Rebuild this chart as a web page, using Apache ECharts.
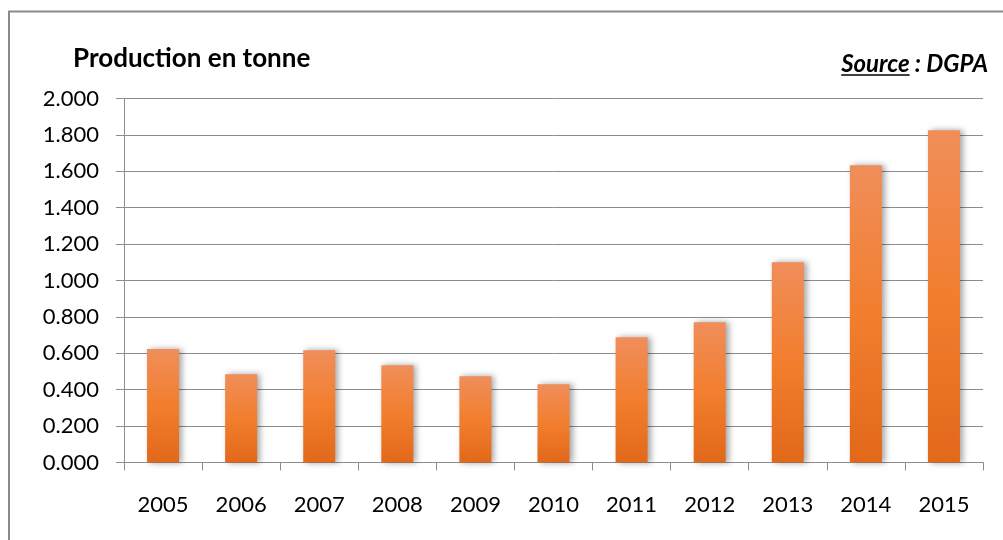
<!DOCTYPE html>
<html>
<head>
<meta charset="utf-8">
<script src="https://cdn.jsdelivr.net/npm/echarts@6/dist/echarts.min.js"></script>
<style>
  html, body { margin: 0; padding: 0; background: #ffffff; }
  #chart { width: 1003px; height: 540px; }
</style>
</head>
<body>
<div id="chart"></div>
<script>
// Production annuelle (en tonne), source DGPA
const years = ['2005', '2006', '2007', '2008', '2009', '2010', '2011', '2012', '2013', '2014', '2015'];
const production = [0.623, 0.485, 0.617, 0.535, 0.474, 0.430, 0.688, 0.771, 1.100, 1.633, 1.826];
const yTickLabels = ['0.000', '0.200', '0.400', '0.600', '0.800', '1.000', '1.200', '1.400', '1.600', '1.800', '2.000'];

const FONT = 'Lato, "Open Sans", sans-serif';
const chart = echarts.init(document.getElementById('chart'), null, { renderer: 'canvas' });

// width of the underlined word, measured with the same font
const SRC_FONT = 'italic bold 24px ' + FONT;
const ctx = document.createElement('canvas').getContext('2d');
ctx.font = SRC_FONT;
const srcWord = 'Source';
const srcRest = ' : DGPA';
const restW = ctx.measureText(srcRest).width;
const wordW = ctx.measureText(srcWord).width;
const srcRight = 988;
const srcWordLeft = srcRight - restW - wordW;

const barColor = new echarts.graphic.LinearGradient(0, 0, 0, 1, [
  { offset: 0, color: '#F08E5A' },
  { offset: 0.5, color: '#F27E2E' },
  { offset: 1, color: '#E2681A' }
]);

chart.setOption({
  animation: false,
  backgroundColor: '#ffffff',
  grid: { left: 124, right: 20, top: 98.5, bottom: 77.5, containLabel: false },
  graphic: [
    {
      type: 'polyline',
      shape: { points: [[9, 545], [9, 11.5], [1010, 11.5]] },
      style: { stroke: '#8a8a8a', lineWidth: 2, fill: null },
      silent: true
    },
    {
      type: 'text',
      x: 73, y: 59,
      style: { text: 'Production en tonne', font: 'bold 26px ' + FONT, fill: '#000000', textVerticalAlign: 'middle' }
    },
    {
      type: 'text',
      x: srcWordLeft, y: 64,
      style: { text: srcWord, font: SRC_FONT, fill: '#000000', textVerticalAlign: 'middle', textAlign: 'left' }
    },
    {
      type: 'text',
      x: srcRight, y: 64,
      style: { text: srcRest, font: SRC_FONT, fill: '#000000', textVerticalAlign: 'middle', textAlign: 'right' }
    },
    {
      type: 'line',
      shape: { x1: srcWordLeft, y1: 75, x2: srcWordLeft + wordW, y2: 75 },
      style: { stroke: '#000000', lineWidth: 1.5 }
    }
  ],
  xAxis: {
    type: 'category',
    data: years,
    boundaryGap: true,
    axisLine: { show: true, lineStyle: { color: '#8c8c8c', width: 1 } },
    axisTick: { show: true, length: 8, alignWithLabel: false, lineStyle: { color: '#8c8c8c' } },
    axisLabel: { color: '#000000', fontFamily: FONT, fontSize: 22, margin: 31 }
  },
  yAxis: {
    type: 'value',
    min: 0, max: 2, interval: 0.2,
    axisLine: { show: true, lineStyle: { color: '#8c8c8c', width: 1 } },
    axisTick: { show: true, length: 8, lineStyle: { color: '#8c8c8c' } },
    splitLine: { show: true, lineStyle: { color: '#8c8c8c', width: 1 } },
    axisLabel: {
      color: '#000000', fontFamily: FONT, fontSize: 22, margin: 25,
      formatter: (v) => yTickLabels[Math.round(v / 0.2)]
    }
  },
  series: [{
    type: 'bar',
    data: production,
    barWidth: 32,
    itemStyle: {
      color: barColor,
      shadowColor: 'rgba(0,0,0,0.35)',
      shadowBlur: 6,
      shadowOffsetX: 3,
      shadowOffsetY: 0
    }
  }]
});
</script>
</body>
</html>
